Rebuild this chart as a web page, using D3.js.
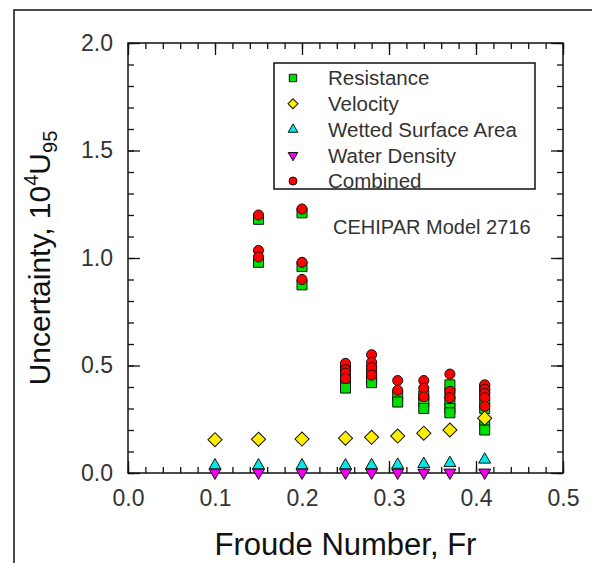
<!DOCTYPE html>
<html>
<head>
<meta charset="utf-8">
<script src="https://cdn.jsdelivr.net/npm/d3@7"></script>
<style>
  html, body { margin: 0; padding: 0; background: #fff; }
  svg { display: block; font-family: "Liberation Sans", Arial, sans-serif; }
</style>
</head>
<body>
<div id="chart"></div>
<script>
const width = 592;
const height = 563;

// data: [Froude number, 10^4 U95]
const resistance = [
  [0.15, 1.18], [0.15, 0.98],
  [0.20, 1.21], [0.20, 0.96], [0.20, 0.875],
  [0.25, 0.48], [0.25, 0.43], [0.25, 0.41], [0.25, 0.395],
  [0.28, 0.48], [0.28, 0.44], [0.28, 0.42],
  [0.31, 0.36], [0.31, 0.33],
  [0.34, 0.36], [0.34, 0.33], [0.34, 0.30],
  [0.37, 0.41], [0.37, 0.37], [0.37, 0.33], [0.37, 0.30], [0.37, 0.28],
  [0.41, 0.39], [0.41, 0.34], [0.41, 0.30], [0.41, 0.24], [0.41, 0.20]
];
const velocity = [
  [0.10, 0.155], [0.15, 0.157], [0.20, 0.158], [0.25, 0.162], [0.28, 0.166],
  [0.31, 0.172], [0.34, 0.185], [0.37, 0.20], [0.41, 0.255]
];
const wettedArea = [
  [0.10, 0.035], [0.15, 0.035], [0.20, 0.035], [0.25, 0.035], [0.28, 0.036],
  [0.31, 0.038], [0.34, 0.042], [0.37, 0.046], [0.41, 0.062]
];
const waterDensity = [
  [0.10, 0.002], [0.15, 0.002], [0.20, 0.002], [0.25, 0.002], [0.28, 0.002],
  [0.31, 0.002], [0.34, 0.002], [0.37, 0.002], [0.41, 0.002]
];
const combined = [
  [0.15, 1.20], [0.15, 1.035], [0.15, 1.005],
  [0.20, 1.228], [0.20, 0.98], [0.20, 0.90],
  [0.25, 0.51], [0.25, 0.48], [0.25, 0.465], [0.25, 0.44],
  [0.28, 0.55], [0.28, 0.515], [0.28, 0.49], [0.28, 0.455],
  [0.31, 0.43], [0.31, 0.385],
  [0.34, 0.43], [0.34, 0.395], [0.34, 0.355],
  [0.37, 0.46], [0.37, 0.38], [0.37, 0.35],
  [0.41, 0.41], [0.41, 0.39], [0.41, 0.37], [0.41, 0.35], [0.41, 0.31]
];

const legendLabels = ["Resistance", "Velocity", "Wetted Surface Area", "Water Density", "Combined"];
const xTicks = [0, 0.1, 0.2, 0.3, 0.4, 0.5];
const yTicks = [0, 0.5, 1.0, 1.5, 2.0];

const svg = d3.select("#chart")
  .append("svg")
  .attr("width", width)
  .attr("height", height);

// outer frame
svg.append("rect")
  .attr("x", 14).attr("y", 10)
  .attr("width", 640).attr("height", 640)
  .attr("fill", "none")
  .attr("stroke", "#111")
  .attr("stroke-width", 1.5);

const x = d3.scaleLinear().domain([0, 0.5]).range([128, 563]);
const y = d3.scaleLinear().domain([0, 2]).range([473, 43]);

const xMinor = d3.range(0, 0.5001, 0.02).map(v => +v.toFixed(2));
const yMinor = d3.range(0, 2.0001, 0.1).map(v => +v.toFixed(1));

function styleAxis(g) {
  g.select(".domain").remove();
  g.selectAll("line").attr("stroke", "#111").attr("stroke-width", 1.3);
  g.selectAll("text")
    .attr("font-size", "23px")
    .attr("fill", "#333")
    .attr("font-family", "Liberation Sans, Arial, sans-serif");
}

// bottom
svg.append("g").attr("transform", `translate(0,${y(0)})`)
  .call(d3.axisBottom(x).tickValues(xMinor).tickSize(-6).tickFormat(""))
  .call(styleAxis);
svg.append("g").attr("transform", `translate(0,${y(0)})`)
  .call(d3.axisBottom(x).tickValues(xTicks).tickSize(-12).tickPadding(17)
    .tickFormat(d3.format(".1f")))
  .call(styleAxis);
// top
svg.append("g").attr("transform", `translate(0,${y(2)})`)
  .call(d3.axisTop(x).tickValues(xMinor).tickSize(-6).tickFormat(""))
  .call(styleAxis);
svg.append("g").attr("transform", `translate(0,${y(2)})`)
  .call(d3.axisTop(x).tickValues(xTicks).tickSize(-12).tickFormat(""))
  .call(styleAxis);
// left
svg.append("g").attr("transform", `translate(${x(0)},0)`)
  .call(d3.axisLeft(y).tickValues(yMinor).tickSize(-6).tickFormat(""))
  .call(styleAxis);
svg.append("g").attr("transform", `translate(${x(0)},0)`)
  .call(d3.axisLeft(y).tickValues(yTicks).tickSize(-12).tickPadding(15)
    .tickFormat(d3.format(".1f")))
  .call(styleAxis);
// right
svg.append("g").attr("transform", `translate(${x(0.5)},0)`)
  .call(d3.axisRight(y).tickValues(yMinor).tickSize(-6).tickFormat(""))
  .call(styleAxis);
svg.append("g").attr("transform", `translate(${x(0.5)},0)`)
  .call(d3.axisRight(y).tickValues(yTicks).tickSize(-12).tickFormat(""))
  .call(styleAxis);

// plot box
svg.append("rect")
  .attr("x", x(0)).attr("y", y(2))
  .attr("width", x(0.5) - x(0)).attr("height", y(0) - y(2))
  .attr("fill", "none")
  .attr("stroke", "#111")
  .attr("stroke-width", 1.5);

// marker definitions
const series = [
  { data: resistance, fill: "#00e000", type: d3.symbolSquare, size: 100, rot: 0, lsize: 55 },
  { data: velocity, fill: "#ffee00", type: d3.symbolSquare, size: 100, rot: 45, lsize: 50 },
  { data: wettedArea, fill: "#00e8e8", type: d3.symbolTriangle, size: 62, rot: 0, lsize: 40 },
  { data: waterDensity, fill: "#ee00ee", type: d3.symbolTriangle, size: 62, rot: 180, lsize: 40 },
  { data: combined, fill: "#ff0000", type: d3.symbolCircle, size: 80, rot: 0, lsize: 50 }
];

const points = svg.append("g");
series.forEach(s => {
  points.append("g").selectAll("path")
    .data(s.data)
    .join("path")
    .attr("d", d3.symbol().type(s.type).size(s.size))
    .attr("transform", d => `translate(${x(d[0])},${y(d[1])}) rotate(${s.rot})`)
    .attr("fill", s.fill)
    .attr("stroke", "#111")
    .attr("stroke-width", 1);
});

// legend
const legend = svg.append("g");
legend.append("rect")
  .attr("x", 274).attr("y", 63)
  .attr("width", 261).attr("height", 126)
  .attr("fill", "#fff")
  .attr("stroke", "#111")
  .attr("stroke-width", 1.5);

const legendY = d3.scalePoint().domain(legendLabels).range([78, 181]);
series.forEach((s, i) => {
  const ly = legendY(legendLabels[i]);
  legend.append("path")
    .attr("d", d3.symbol().type(s.type).size(s.lsize))
    .attr("transform", `translate(293,${ly}) rotate(${s.rot})`)
    .attr("fill", s.fill)
    .attr("stroke", "#111")
    .attr("stroke-width", 1);
  legend.append("text")
    .attr("x", 328).attr("y", ly)
    .attr("dy", "0.36em")
    .attr("font-size", "20.5px")
    .attr("fill", "#333")
    .text(legendLabels[i]);
});

svg.append("text")
  .attr("x", 333).attr("y", 227)
  .attr("dy", "0.36em")
  .attr("font-size", "20px")
  .attr("fill", "#333")
  .text("CEHIPAR Model 2716");

// axis titles
svg.append("text")
  .attr("x", (x(0) + x(0.5)) / 2).attr("y", 555)
  .attr("text-anchor", "middle")
  .attr("font-size", "31px")
  .attr("fill", "#111")
  .text("Froude Number, Fr");

const yTitle = svg.append("text")
  .attr("transform", `translate(50,${(y(0) + y(2)) / 2}) rotate(-90)`)
  .attr("text-anchor", "middle")
  .attr("font-size", "30px")
  .attr("fill", "#111");
yTitle.append("tspan").text("Uncertainty, 10");
yTitle.append("tspan").attr("font-size", "20px").attr("dy", -12).text("4");
yTitle.append("tspan").attr("dy", 12).text("U");
yTitle.append("tspan").attr("font-size", "20px").attr("dy", 7).text("95");
</script>
</body>
</html>
